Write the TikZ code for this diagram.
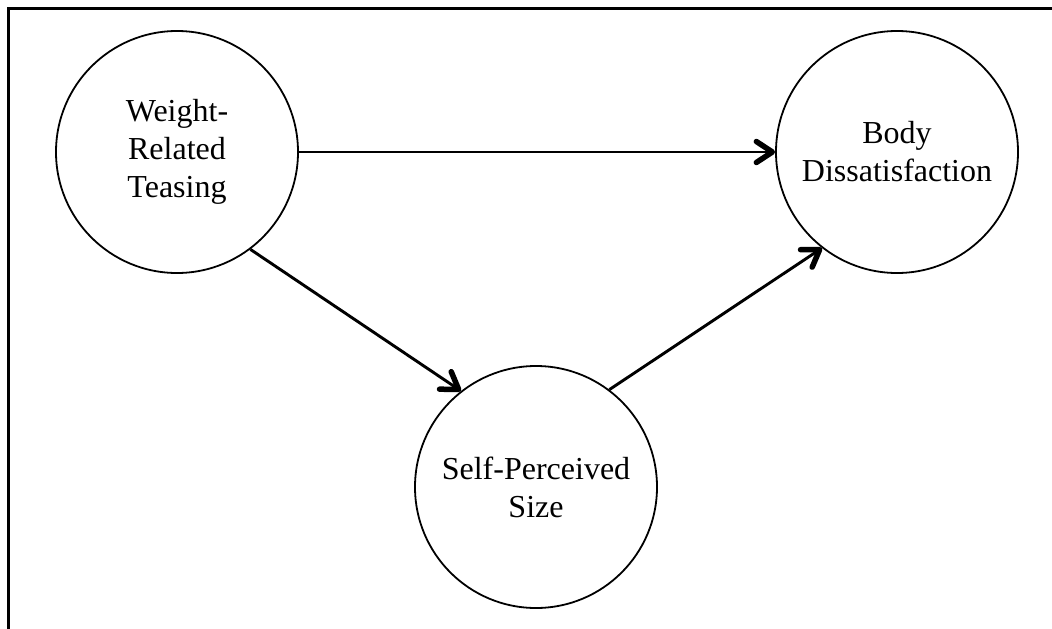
\documentclass[tikz,border=0pt]{standalone}
\usepackage{fontspec}
\setmainfont{Liberation Serif}
\usetikzlibrary{arrows.meta}
\begin{document}
\begin{tikzpicture}[x=1pt,y=-1pt,
  var/.style={circle,draw,line width=1.8pt,minimum size=242pt,inner sep=0pt,align=center,
    font=\fontsize{32}{38}\selectfont},
  link/.style={line width=2.9pt,-{Straight Barb[length=16pt,width=21pt,line width=5.5pt,round]}},
  frame/.style={line width=3pt}]
\useasboundingbox (0,0) rectangle (1052,629);
\draw[frame] (8,629) -- (8,8) -- (1052,8);
\node[var] (W) at (177,152) {Weight-\\Related\\Teasing};
\node[var] (B) at (897,152) {Body\\Dissatisfaction};
\node[var] (S) at (536,487) {Self-Perceived\\Size};
\draw[link] (W.east) -- (B.west);
\draw[link] (W.-53) -- (S.128);
\draw[link] (S.53) -- (B.232);
\end{tikzpicture}
\end{document}
